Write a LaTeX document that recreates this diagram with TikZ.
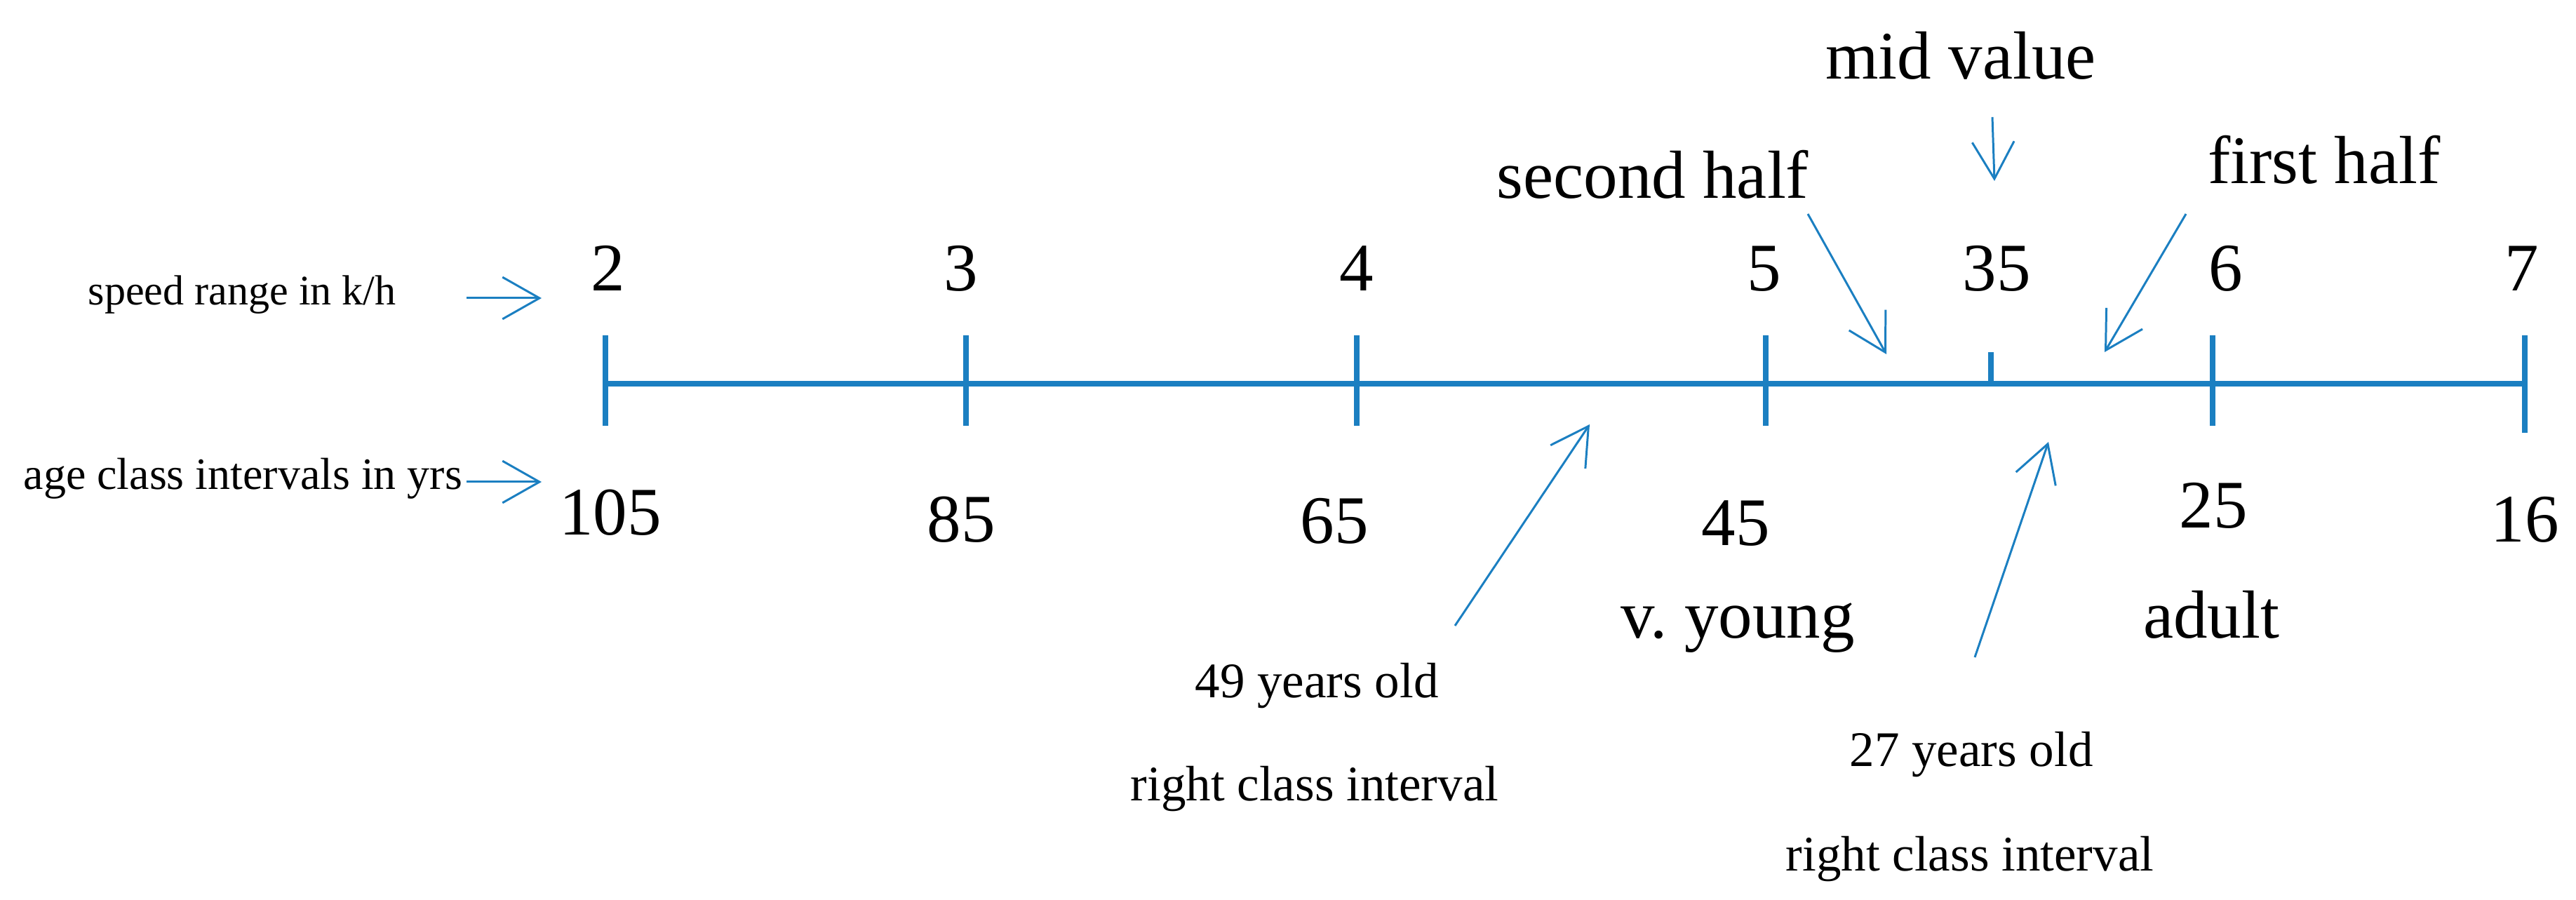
\documentclass[tikz,border=0pt]{standalone}
\usepackage{fontspec}
\setmainfont{Liberation Serif}
\usetikzlibrary{arrows.meta}

\definecolor{axisblue}{RGB}{27,127,193}
\newcommand{\bigsz}{\fontsize{27.6}{30}\selectfont}
\newcommand{\notesz}{\fontsize{20.2}{22}\selectfont}
\newcommand{\leftsz}{\fontsize{18.2}{20}\selectfont}

\begin{document}
\begin{tikzpicture}[
    axis/.style={axisblue, line width=2.3pt},
    pointer/.style={axisblue, line width=0.85pt,
      -{Straight Barb[length=15pt, width=17pt, line width=0.85pt]}},
    num/.style={anchor=base, inner sep=0pt, font=\bigsz},
    note/.style={anchor=base, inner sep=0pt, font=\notesz},
    side/.style={anchor=base west, inner sep=0pt, font=\leftsz}]
    \useasboundingbox (0,0) rectangle (36.72,12.83);

    % Number line
    \draw[axis] (8.63,7.36) -- (35.99,7.36);
    \draw[axis] (8.63,6.76) -- (8.63,8.05);
    \draw[axis] (13.77,6.76) -- (13.77,8.05);
    \draw[axis] (19.34,6.76) -- (19.34,8.05);
    \draw[axis] (25.17,6.76) -- (25.17,8.05);
    \draw[axis] (31.54,6.76) -- (31.54,8.05);
    \draw[axis] (35.99,6.66) -- (35.99,8.05);
    \draw[axis] (28.38,7.36) -- (28.38,7.81);

    % Speed range (top)
    \node[side, font=\fontsize{17.1}{19}\selectfont] (speed) at (1.25,8.48) {speed range in k/h};
    \node[num] (s2) at (8.67,8.68) {2};
    \node[num] (s3) at (13.70,8.68) {3};
    \node[num] (s4) at (19.34,8.68) {4};
    \node[num] (s5) at (25.15,8.68) {5};
    \node[num] (s35) at (28.46,8.68) {35};
    \node[num] (s6) at (31.73,8.68) {6};
    \node[num] (s7) at (35.95,8.68) {7};

    % Age classes (bottom)
    \node[side] (age) at (0.33,5.85) {age class intervals in yrs};
    \node[num] (a105) at (8.70,5.20) {105};
    \node[num] (a85) at (13.70,5.10) {85};
    \node[num] (a65) at (19.02,5.08) {65};
    \node[num] (a45) at (24.74,5.05) {45};
    \node[num] (a25) at (31.55,5.30) {25};
    \node[num] (a16) at (35.99,5.10) {16};
    \node[num] (vyoung) at (24.77,3.73) {v.\ young};
    \node[num] (adult) at (31.52,3.73) {adult};

    % Halves and mid value
    \node[num] (mid) at (27.95,11.70) {mid value};
    \node[num] (second) at (23.56,10.00) {second half};
    \node[num] (first) at (33.13,10.21) {first half};

    % Example ages
    \node[note] (old49) at (18.77,2.88) {49 years old};
    \node[note] (rci49) at (18.74,1.41) {right class interval};
    \node[note] (old27) at (28.10,1.90) {27 years old};
    \node[note] (rci27) at (28.08,0.41) {right class interval};

    % Pointers
    \coordinate (speedtail) at (6.65,8.58);
    \coordinate (speedtip) at (7.72,8.58);
    \coordinate (agetail) at (6.65,5.96);
    \coordinate (agetip) at (7.72,5.96);
    \coordinate (midtail) at (28.40,11.16);
    \coordinate (midtip) at (28.43,10.25);
    \coordinate (secondtail) at (25.77,9.78);
    \coordinate (secondtip) at (26.89,7.78);
    \coordinate (firsttail) at (31.16,9.78);
    \coordinate (firsttip) at (30.00,7.81);
    \coordinate (tail49) at (20.74,3.91);
    \coordinate (tip49) at (22.66,6.78);
    \coordinate (tail27) at (28.15,3.46);
    \coordinate (tip27) at (29.20,6.53);

    \draw[pointer] (speedtail) -- (speedtip);
    \draw[pointer] (agetail) -- (agetip);
    \draw[pointer] (midtail) -- (midtip);
    \draw[pointer] (secondtail) -- (secondtip);
    \draw[pointer] (firsttail) -- (firsttip);
    \draw[pointer] (tail49) -- (tip49);
    \draw[pointer] (tail27) -- (tip27);
\end{tikzpicture}
\end{document}
